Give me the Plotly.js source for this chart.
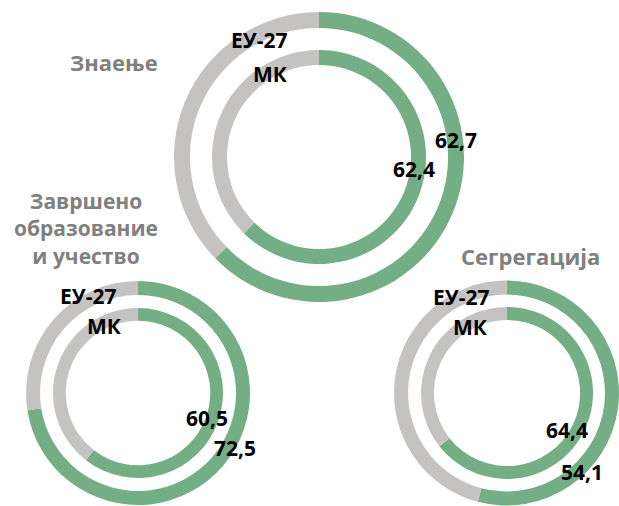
<!DOCTYPE html>
<html>
<head>
<meta charset="utf-8">
<script src="https://cdn.plot.ly/plotly-3.0.1.min.js"></script>
<style>html,body{margin:0;padding:0;background:#fff;}#chart{width:619px;height:506px;}</style>
</head>
<body>
<div id="chart"></div>
<script>
// ---- data ----
const categories = ['Знаење', 'Завршено<br>образование<br>и учество', 'Сегрегација'];
const seriesNames = ['ЕУ-27', 'МК'];
const euValues = [62.7, 72.5, 54.1];
const mkValues = [62.4, 60.5, 64.4];

// ---- layout helpers (pixel geometry of each pair of rings) ----
const W = 619, H = 506;
const GREEN = '#74ae84', GREY = '#c4c3c2', TITLEGREY = '#808080';
const FONT = 'Open Sans, DejaVu Sans, sans-serif';

const groups = [
  {cx: 319, cy: 157, rOut: 145, rIn: 107, holeOut: 0.89, holeIn: 0.86,
   title: {x: 114, y: 62, size: 22}, eu: {x: 259, y: 40}, mk: {x: 270, y: 74},
   euVal: {x: 456, y: 140}, mkVal: {x: 414, y: 169}},
  {cx: 138, cy: 393, rOut: 112, rIn: 85, holeOut: 0.875, holeIn: 0.85,
   title: {x: 86, y: 228, size: 21}, eu: {x: 88, y: 296}, mk: {x: 104, y: 326},
   euVal: {x: 235, y: 448}, mkVal: {x: 207, y: 418}},
  {cx: 507, cy: 393, rOut: 113, rIn: 86, holeOut: 0.875, holeIn: 0.85,
   title: {x: 530, y: 256, size: 22}, eu: {x: 461, y: 297}, mk: {x: 470, y: 327},
   euVal: {x: 582, y: 472}, mkVal: {x: 567, y: 430}}
];

function dom(cx, cy, r) {
  const clamp = v => Math.max(0, Math.min(1, v));
  return {
    x: [clamp((cx - r) / W), clamp((cx + r) / W)],
    y: [clamp(1 - (cy + r) / H), clamp(1 - (cy - r) / H)]
  };
}
const fmt = v => v.toFixed(1).replace('.', ',');

const traces = [];
const annotations = [];
function ann(text, p, color, size) {
  annotations.push({text: text, x: p.x / W, y: 1 - p.y / H, xref: 'paper', yref: 'paper',
    xanchor: 'center', yanchor: 'middle', align: 'center', showarrow: false,
    font: {family: FONT, size: size, color: color, weight: 'bold'}});
}

groups.forEach((g, i) => {
  [[euValues[i], g.rOut, g.holeOut, seriesNames[0]], [mkValues[i], g.rIn, g.holeIn, seriesNames[1]]]
    .forEach(([v, r, hole, name]) => {
      traces.push({
        type: 'pie', name: name,
        values: [v, 100 - v], labels: ['a', 'b'],
        sort: false, direction: 'clockwise', rotation: 0,
        hole: hole, textinfo: 'none', hoverinfo: 'skip',
        marker: {colors: [GREEN, GREY], line: {width: 0}},
        domain: dom(g.cx, g.cy, r), showlegend: false
      });
    });
  ann(categories[i], g.title, TITLEGREY, g.title.size);
  ann(seriesNames[0], g.eu, '#000', 21);
  ann(seriesNames[1], g.mk, '#000', 21);
  ann(fmt(euValues[i]), g.euVal, '#000', 21);
  ann(fmt(mkValues[i]), g.mkVal, '#000', 21);
});

Plotly.newPlot('chart', traces, {
  width: W, height: H, margin: {l: 0, r: 0, t: 0, b: 0},
  paper_bgcolor: '#fff', plot_bgcolor: '#fff', showlegend: false,
  annotations: annotations
}, {displayModeBar: false, staticPlot: true});
</script>
</body>
</html>
